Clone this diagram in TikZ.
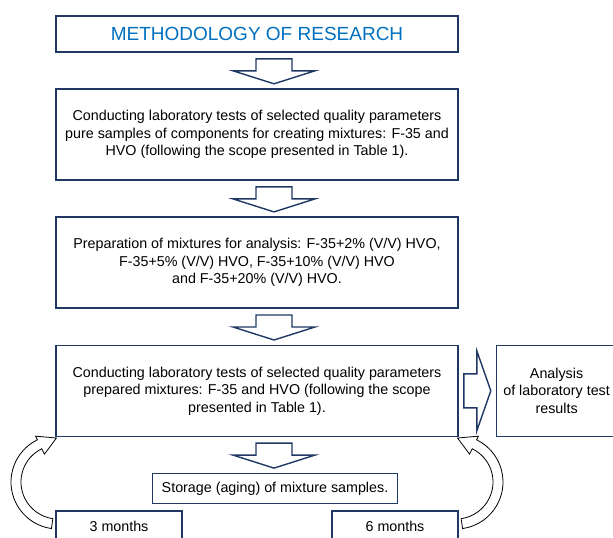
\documentclass[tikz,border=0pt]{standalone}
\usepackage{fontspec}
\setmainfont{Liberation Sans}
\usepackage{tikz}
\usetikzlibrary{positioning}

\definecolor{navy}{RGB}{32,56,100}
\definecolor{titleblue}{RGB}{0,112,192}

\begin{document}
\begin{tikzpicture}[x=1pt,y=1pt,node distance=35.5pt,line width=1.6pt]
\tikzstyle{box}=[draw=navy,fill=white,text=black,align=center,minimum width=402pt,minimum height=91pt,font=\fontsize{14.3}{17.5}\selectfont]
\tikzstyle{blk}=[draw=navy,fill=white,line width=1.4pt,line join=miter]
\tikzstyle{curvy}=[draw=black,fill=white,line width=0.8pt]
\useasboundingbox (0,0) rectangle (613,-538);
\node[box,minimum height=36pt,text=titleblue,font=\fontsize{19}{22}\selectfont] (M) at (257,-34) {METHODOLOGY OF RESEARCH};
\node[box] (C1) [below=of M] {Conducting laboratory tests of selected quality parameters\\pure samples of components for creating mixtures: F-35 and\\HVO (following the scope presented in Table 1).};
\node[box] (P) [below=of C1] {Preparation of mixtures for analysis: F-35+2\% (V/V) HVO,\\F-35+5\% (V/V) HVO, F-35+10\% (V/V) HVO\\and F-35+20\% (V/V) HVO.};
\node[box] (C2) [below=of P] {Conducting laboratory tests of selected quality parameters\\prepared mixtures: F-35 and HVO (following the scope\\presented in Table 1).};
\node[box,minimum width=120pt] (R) [right=37pt of C2] {Analysis\\of laboratory test\\results};
\node[box,minimum width=245pt,minimum height=30pt] (S) [below=of C2,xshift=18pt] {Storage (aging) of mixture samples.};
\node[box,minimum width=126pt,minimum height=30pt] (T3) [below right=73pt and 0pt of C2.south west] {3 months};
\node[box,minimum width=126pt,minimum height=30pt] (T6) [below left=73pt and 0pt of C2.south east] {6 months};
% block arrows
\foreach \n in {M,C1,P,C2}
  \draw[blk] ([xshift=-1pt,yshift=-6pt]\n.south) -- ++(36,0) -- ++(0,-12) -- ++(23,0) -- ++(-41,-13) -- ++(-41,13) -- ++(23,0) -- cycle;
\draw[blk] ([xshift=5pt,yshift=17pt]C2.east) -- ++(13,0) -- ++(0,23) -- ++(14,-40) -- ++(-14,-40) -- ++(0,23) -- ++(-13,0) -- cycle;
% curved arrows back to the tests
\foreach \cx/\s in {58/1,456/-1}
  \draw[curvy,shift={(\cx,-482)},xscale=\s] (262:47) arc[start angle=262,end angle=116,radius=47] -- (116:51) -- (92:44) -- (116:31) -- (116:37) arc[start angle=116,end angle=262,radius=37] -- cycle;
\end{tikzpicture}
\end{document}
